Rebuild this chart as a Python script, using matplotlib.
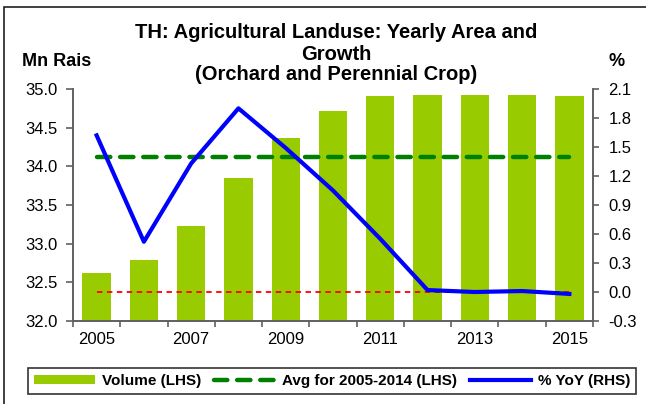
import matplotlib
matplotlib.use("Agg")
import matplotlib.pyplot as plt
from matplotlib.patches import Rectangle
import numpy as np

years = [2005, 2006, 2007, 2008, 2009, 2010, 2011, 2012, 2013, 2014, 2015]
volume = [32.62, 32.79, 33.23, 33.85, 34.36, 34.72, 34.91, 34.92, 34.92, 34.92, 34.91]
avg_2005_2014 = 34.12
yoy = [1.62, 0.52, 1.33, 1.90, 1.49, 1.05, 0.55, 0.02, 0.00, 0.01, -0.02]
title_lines = ["TH: Agricultural Landuse: Yearly Area and", "Growth",
               "(Orchard and Perennial Crop)"]


def main():
    plt.rcParams["font.family"] = ["Liberation Sans", "DejaVu Sans"]

    fig = plt.figure(figsize=(6.46, 4.04), dpi=100)
    W, H = 646, 404
    ax = fig.add_axes([73 / W, 1 - 321 / H, (593 - 73) / W, (321 - 89) / H])
    ax2 = ax.twinx()

    x = np.arange(len(years))

    # bars + average on the left axis
    bars = ax.bar(x, volume, width=0.6, color="#99CC00", zorder=2,
                  label="Volume (LHS)")
    avg_line, = ax.plot([x[0], x[-1]], [avg_2005_2014] * 2, color="#008000",
                        lw=3.2, dashes=(3, 2.2), dash_capstyle="round", zorder=3,
                        label="Avg for 2005-2014 (LHS)")

    # growth on the right axis
    ax2.plot([x[0], x[-1]], [0, 0], color="red", lw=1.3, dashes=(3, 2.5))
    yoy_line, = ax2.plot(x, yoy, color="#0000FF", lw=3, label="% YoY (RHS)")

    ax.set_xlim(-0.5, len(years) - 0.5)
    ax.set_ylim(32.0, 35.0)
    lticks = np.arange(32.0, 35.01, 0.5)
    ax.set_yticks(lticks)
    ax.set_yticklabels([f"{v:.1f}" for v in lticks])
    ax2.set_ylim(-0.3, 2.1)
    rticks = np.arange(-0.3, 2.11, 0.3)
    ax2.set_yticks(rticks)
    ax2.set_yticklabels([f"{v:.1f}" if abs(v) > 1e-9 else "0.0" for v in rticks])

    # category axis: ticks between bars, labels every other year
    ax.set_xticks(np.arange(-0.5, len(years), 1.0))
    ax.set_xticklabels([])
    ax.set_xticks(x[::2], minor=True)
    ax.set_xticklabels([str(y) for y in years[::2]], minor=True)
    ax.tick_params(axis="x", which="minor", length=0, pad=8, labelsize=12)
    ax.tick_params(axis="x", which="major", length=4, direction="out",
                   color="#606060", width=1.2)
    ax.tick_params(axis="y", length=5, direction="out", pad=6, labelsize=12,
                   color="#606060", width=1.2)
    ax2.tick_params(axis="y", length=4, direction="out", pad=7, labelsize=12,
                    color="#606060", width=1.2)

    for a in (ax, ax2):
        a.spines["top"].set_visible(False)
        for s in ("left", "right", "bottom"):
            a.spines[s].set_color("#606060")
            a.spines[s].set_linewidth(1.2)

    for line, yc in zip(title_lines, [33, 54, 75]):
        fig.text(336 / W, 1 - yc / H, line, ha="center", va="center",
                 fontsize=14.5, fontweight="bold")
    fig.text(22 / W, 1 - 62 / H, "Mn Rais", ha="left", va="center",
             fontsize=13, fontweight="bold")
    fig.text(617 / W, 1 - 62 / H, "%", ha="center", va="center",
             fontsize=13, fontweight="bold")

    leg = fig.legend(handles=[bars, avg_line, yoy_line],
                     loc="lower left", ncol=3, mode="expand",
                     bbox_to_anchor=(28 / W, 1 - 394 / H, 608 / W, 31 / H),
                     borderaxespad=0, frameon=True, fancybox=False,
                     edgecolor="black", handlelength=4.0, handleheight=0.6,
                     columnspacing=0.6, handletextpad=0.45,
                     prop={"weight": "bold", "size": 11})
    leg.get_frame().set_linewidth(1.2)

    # outer chart border
    fig.patches.append(Rectangle((4 / W, -0.05), 1.1, 1 - 7 / H + 0.05,
                                 transform=fig.transFigure, fill=False,
                                 edgecolor="#202020", lw=1.2))

    fig.savefig("out.png", dpi=100)


if __name__ == "__main__":
    main()
